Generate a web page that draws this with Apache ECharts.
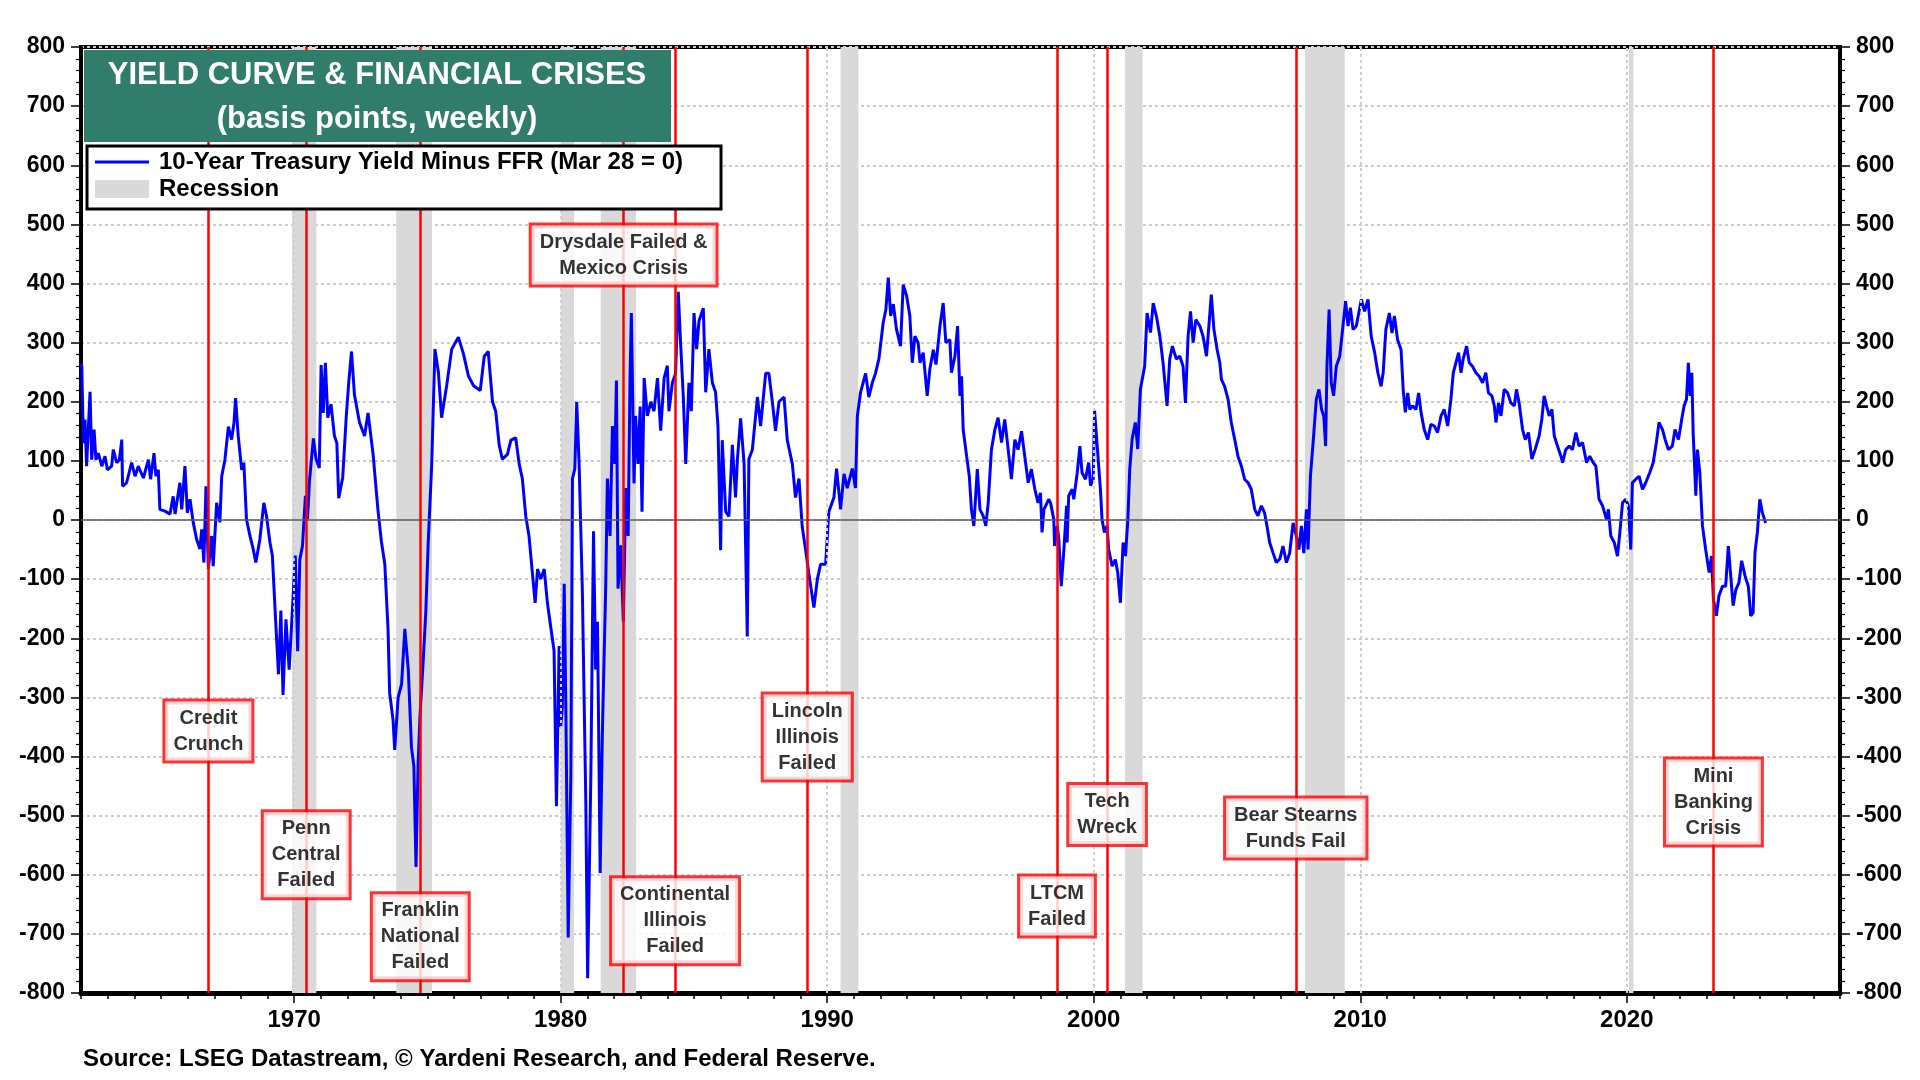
<!DOCTYPE html>
<html>
<head>
<meta charset="utf-8">
<title>Yield Curve & Financial Crises</title>
<script src="https://cdn.jsdelivr.net/npm/echarts@6/dist/echarts.min.js"></script>
<style>
  html, body { margin: 0; padding: 0; background: #fff; }
  #container { width: 1920px; height: 1080px; }
</style>
</head>
<body>
<div id="container"></div>
<script>
// 10-year Treasury yield minus federal funds rate, basis points, [decimal year, value]
var spread60s = [
  [1962.00, 265], [1962.03, 260], [1962.09, 130], [1962.15, 170], [1962.21, 91], [1962.34, 217], [1962.40, 102],
  [1962.49, 153], [1962.56, 102], [1962.65, 113], [1962.78, 91], [1962.90, 108], [1962.99, 85], [1963.15, 91],
  [1963.21, 119], [1963.34, 97], [1963.44, 102], [1963.53, 136], [1963.56, 57], [1963.71, 63], [1963.90, 97],
  [1964.03, 74], [1964.15, 91], [1964.34, 71], [1964.53, 102], [1964.61, 69], [1964.74, 113], [1964.81, 74],
  [1964.90, 85], [1964.96, 18], [1965.15, 15], [1965.34, 10], [1965.46, 40], [1965.53, 10], [1965.71, 63],
  [1965.78, 18], [1965.90, 91], [1965.99, 12], [1966.09, 35], [1966.21, -4], [1966.34, -33], [1966.46, -49],
  [1966.53, -16], [1966.61, -72], [1966.69, 57], [1966.78, -83], [1966.90, -27], [1966.96, -78], [1967.09, 29],
  [1967.21, -4], [1967.28, 74], [1967.40, 102], [1967.53, 158], [1967.65, 136], [1967.74, 164], [1967.80, 206],
  [1967.90, 142], [1968.03, 85], [1968.11, 97], [1968.21, 1], [1968.34, -27], [1968.46, -49], [1968.56, -72],
  [1968.71, -33], [1968.86, 29], [1968.96, 7], [1969.09, -38], [1969.18, -60], [1969.31, -176], [1969.41, -261],
  [1969.50, -153], [1969.58, -296], [1969.69, -168], [1969.81, -253], [1969.94, -145]
];
var spread70s = [
  [1970.04, -60], [1970.13, -222], [1970.21, -67], [1970.31, -44], [1970.42, 41], [1970.50, 2], [1970.57, 64],
  [1970.63, 95], [1970.72, 138], [1970.82, 103], [1970.94, 88], [1971.01, 262], [1971.09, 181], [1971.17, 266],
  [1971.26, 173], [1971.38, 196], [1971.51, 142], [1971.60, 130], [1971.67, 37], [1971.82, 72], [1971.95, 173],
  [1972.05, 235], [1972.15, 285], [1972.26, 212], [1972.45, 165], [1972.64, 142], [1972.77, 181], [1972.96, 111],
  [1973.14, 18], [1973.27, -36], [1973.40, -75], [1973.52, -184], [1973.58, -292], [1973.71, -339], [1973.77, -389],
  [1973.90, -300], [1974.03, -277], [1974.15, -184], [1974.28, -253], [1974.40, -385], [1974.49, -416], [1974.57, -587],
  [1974.65, -409], [1974.72, -331], [1974.84, -238], [1974.94, -153], [1975.03, -36], [1975.16, 95], [1975.28, 289],
  [1975.41, 250], [1975.53, 173], [1975.72, 227], [1975.91, 289], [1976.16, 309], [1976.35, 281], [1976.54, 243],
  [1976.73, 227], [1976.98, 219], [1977.13, 277], [1977.28, 285], [1977.35, 248], [1977.44, 200], [1977.56, 184],
  [1977.69, 127], [1977.81, 103], [1978.00, 111], [1978.13, 135], [1978.31, 139], [1978.44, 95], [1978.56, 70],
  [1978.69, 6], [1978.81, -27], [1978.94, -91], [1979.04, -140], [1979.13, -83], [1979.25, -100], [1979.38, -83],
  [1979.50, -140], [1979.65, -189], [1979.75, -221], [1979.84, -484], [1979.94, -213]
];
var spread80s = [
  [1980.00, -350], [1980.06, -318], [1980.13, -108], [1980.19, -310], [1980.28, -706], [1980.38, -431], [1980.44, 70],
  [1980.53, 87], [1980.60, 200], [1980.69, 95], [1980.81, -116], [1980.94, -472], [1981.01, -775], [1981.13, -431],
  [1981.23, -19], [1981.31, -253], [1981.38, -172], [1981.48, -597], [1981.56, -366], [1981.69, -108], [1981.75, 70],
  [1981.85, -27], [1981.94, 159], [1982.03, 95], [1982.09, 236], [1982.15, -116], [1982.25, -43], [1982.35, -172],
  [1982.44, 54], [1982.53, -27], [1982.60, 240], [1982.65, 350], [1982.75, 62], [1982.81, 176], [1982.90, 95],
  [1982.98, 192], [1983.05, 14], [1983.13, 240], [1983.25, 176], [1983.38, 200], [1983.50, 184], [1983.63, 240],
  [1983.75, 151], [1983.88, 240], [1984.00, 261], [1984.06, 184], [1984.19, 232], [1984.31, 248], [1984.41, 386],
  [1984.50, 297], [1984.60, 208], [1984.69, 95], [1984.81, 232], [1984.90, 184], [1985.00, 350], [1985.10, 289],
  [1985.19, 337], [1985.35, 358], [1985.44, 216], [1985.56, 289], [1985.69, 232], [1985.81, 216], [1985.90, 159],
  [1986.00, -51], [1986.06, 135], [1986.19, 14], [1986.31, 6], [1986.44, 127], [1986.56, 38], [1986.63, 103],
  [1986.75, 172], [1986.88, 95], [1987.00, -197], [1987.06, 103], [1987.19, 119], [1987.38, 208], [1987.50, 159],
  [1987.69, 248], [1987.81, 248], [1987.94, 200], [1988.06, 151], [1988.19, 200], [1988.38, 208], [1988.50, 135],
  [1988.69, 95], [1988.81, 38], [1988.94, 70], [1989.06, -11], [1989.19, -51], [1989.31, -91], [1989.50, -148],
  [1989.63, -100], [1989.75, -75], [1989.94, -75]
];
var spread90s = [
  [1990.06, 14], [1990.25, 38], [1990.35, 87], [1990.50, 18], [1990.63, 78], [1990.75, 54], [1990.94, 87],
  [1991.06, 54], [1991.13, 176], [1991.25, 216], [1991.44, 248], [1991.56, 208], [1991.69, 232], [1991.81, 248],
  [1991.94, 273], [1992.10, 334], [1992.20, 356], [1992.29, 410], [1992.38, 345], [1992.48, 365], [1992.60, 322],
  [1992.75, 294], [1992.85, 398], [1992.98, 379], [1993.10, 345], [1993.19, 266], [1993.29, 311], [1993.41, 300],
  [1993.48, 266], [1993.60, 283], [1993.75, 210], [1993.85, 255], [1993.98, 288], [1994.08, 263], [1994.23, 328],
  [1994.35, 367], [1994.45, 300], [1994.60, 305], [1994.66, 249], [1994.79, 277], [1994.89, 328], [1994.98, 210],
  [1995.04, 243], [1995.10, 153], [1995.23, 108], [1995.33, 74], [1995.41, 18], [1995.50, -10], [1995.63, 86],
  [1995.73, 18], [1995.85, 7], [1995.95, -10], [1996.04, 29], [1996.16, 119], [1996.29, 153], [1996.41, 173],
  [1996.54, 131], [1996.66, 170], [1996.79, 119], [1996.91, 69], [1997.04, 136], [1997.16, 119], [1997.29, 150],
  [1997.41, 108], [1997.54, 63], [1997.66, 86], [1997.79, 52], [1997.91, 29], [1998.00, 46], [1998.06, -21],
  [1998.13, 18], [1998.31, 35], [1998.38, 29], [1998.50, 1], [1998.53, -44], [1998.63, -10], [1998.69, -33],
  [1998.78, -112], [1998.88, -50], [1998.98, 24], [1999.00, -38], [1999.06, 41], [1999.19, 52], [1999.25, 35],
  [1999.38, 80], [1999.48, 125], [1999.56, 80], [1999.69, 69], [1999.81, 97], [1999.88, 58], [1999.98, 69]
];
var spread00s = [
  [2000.03, 185], [2000.13, 125], [2000.25, 52], [2000.31, 1], [2000.40, -21], [2000.50, -10], [2000.56, -50],
  [2000.69, -78], [2000.81, -67], [2000.90, -89], [2001.00, -140], [2001.10, -38], [2001.19, -61], [2001.28, 1],
  [2001.35, 86], [2001.44, 137], [2001.56, 165], [2001.65, 120], [2001.75, 221], [2001.91, 260], [2002.00, 350],
  [2002.13, 317], [2002.23, 367], [2002.35, 345], [2002.48, 311], [2002.60, 266], [2002.75, 193], [2002.85, 272],
  [2002.95, 294], [2003.10, 272], [2003.23, 277], [2003.35, 260], [2003.44, 198], [2003.54, 311], [2003.63, 353],
  [2003.73, 300], [2003.83, 339], [2003.98, 328], [2004.10, 311], [2004.23, 277], [2004.33, 334], [2004.41, 381],
  [2004.51, 322], [2004.63, 288], [2004.73, 266], [2004.79, 238], [2004.91, 226], [2005.04, 204], [2005.16, 165],
  [2005.29, 136], [2005.41, 108], [2005.54, 91], [2005.66, 69], [2005.79, 63], [2005.91, 52], [2006.04, 18],
  [2006.16, 7], [2006.29, 24], [2006.41, 12], [2006.50, -10], [2006.60, -38], [2006.73, -56], [2006.85, -72],
  [2006.98, -66], [2007.10, -44], [2007.23, -72], [2007.35, -56], [2007.48, -5], [2007.60, -27], [2007.70, -50],
  [2007.79, -10], [2007.88, -56], [2007.98, 18], [2008.04, -50], [2008.13, 74], [2008.23, 131], [2008.35, 204],
  [2008.45, 221], [2008.55, 187], [2008.63, 176], [2008.70, 125], [2008.75, 260], [2008.83, 356], [2008.91, 232],
  [2009.00, 210], [2009.10, 260], [2009.23, 277], [2009.35, 328], [2009.45, 370], [2009.54, 328], [2009.63, 359],
  [2009.73, 322], [2009.85, 328]
];
var spread10s = [
  [2010.04, 373], [2010.16, 353], [2010.29, 373], [2010.41, 311], [2010.54, 283], [2010.66, 249], [2010.78, 226],
  [2010.86, 249], [2010.96, 322], [2011.09, 350], [2011.19, 316], [2011.28, 345], [2011.40, 305], [2011.53, 288],
  [2011.61, 221], [2011.69, 182], [2011.78, 215], [2011.86, 187], [2011.96, 193], [2012.09, 187], [2012.19, 215],
  [2012.28, 182], [2012.40, 153], [2012.53, 136], [2012.65, 162], [2012.78, 159], [2012.90, 148], [2013.03, 176],
  [2013.15, 187], [2013.28, 159], [2013.40, 204], [2013.49, 249], [2013.59, 266], [2013.69, 283], [2013.78, 249],
  [2013.86, 272], [2013.99, 294], [2014.09, 266], [2014.21, 260], [2014.34, 249], [2014.46, 243], [2014.59, 232],
  [2014.71, 249], [2014.81, 215], [2014.94, 210], [2015.03, 193], [2015.09, 165], [2015.19, 198], [2015.28, 176],
  [2015.40, 221], [2015.53, 215], [2015.65, 198], [2015.78, 193], [2015.86, 221], [2015.96, 198], [2016.09, 153],
  [2016.19, 136], [2016.31, 148], [2016.44, 103], [2016.56, 119], [2016.71, 142], [2016.81, 170], [2016.90, 210],
  [2016.99, 193], [2017.09, 176], [2017.19, 187], [2017.28, 142], [2017.40, 125], [2017.53, 108], [2017.59, 97],
  [2017.71, 119], [2017.84, 125], [2017.96, 119], [2018.09, 148], [2018.21, 125], [2018.34, 131], [2018.49, 97],
  [2018.61, 108], [2018.74, 97], [2018.84, 91], [2018.96, 35], [2019.09, 24], [2019.24, 1], [2019.31, 18],
  [2019.40, -27], [2019.53, -38], [2019.65, -61], [2019.74, -21], [2019.84, 29], [2019.96, 35]
];
var spread20s = [
  [2020.06, 24], [2020.15, -50], [2020.21, 63], [2020.34, 69], [2020.46, 74], [2020.59, 52], [2020.71, 63],
  [2020.86, 80], [2020.99, 97], [2021.11, 131], [2021.21, 165], [2021.34, 153], [2021.44, 136], [2021.56, 119],
  [2021.71, 125], [2021.81, 153], [2021.94, 136], [2022.06, 170], [2022.15, 193], [2022.24, 204], [2022.31, 266],
  [2022.38, 210], [2022.44, 249], [2022.49, 148], [2022.59, 41], [2022.65, 119], [2022.74, 80], [2022.84, -10],
  [2022.96, -50], [2023.09, -89], [2023.18, -61], [2023.25, -134], [2023.36, -162], [2023.46, -128], [2023.59, -112],
  [2023.71, -112], [2023.81, -44], [2023.90, -95], [2023.99, -145], [2024.09, -118], [2024.21, -106], [2024.31, -69],
  [2024.44, -95], [2024.56, -112], [2024.65, -162], [2024.74, -157], [2024.81, -55], [2024.90, -21], [2024.99, 35],
  [2025.09, 12], [2025.21, -5]
];

// NBER recessions, start and end as decimal years
var recessions = [
  [1969.92, 1970.83], [1973.83, 1975.17], [1980.0, 1980.5], [1981.5, 1982.83],
  [1990.5, 1991.17], [2001.17, 2001.83], [2007.92, 2009.42], [2020.08, 2020.25]
];
var decades = [1970, 1980, 1990, 2000, 2010, 2020];

var events = [
  'Credit\nCrunch', 'Penn\nCentral\nFailed', 'Franklin\nNational\nFailed',
  'Drysdale Failed &\nMexico Crisis', 'Continental\nIllinois\nFailed', 'Lincoln\nIllinois\nFailed',
  'LTCM\nFailed', 'Tech\nWreck', 'Bear Stearns\nFunds Fail', 'Mini\nBanking\nCrisis'
];
var eventDates = [1966.78, 1970.45, 1974.73, 1982.36, 1984.29, 1989.25, 1998.62, 2000.5, 2007.58, 2023.25];
// where each annotation box sits on the y scale
var eventLabelY = [-357, -566, -705, 448, -678, -367, -653, -498, -521, -477];

var FONT = 'Arial, "Liberation Sans", sans-serif';

var lineData = [].concat(spread60s, spread70s, spread80s, spread90s, spread00s, spread10s, spread20s);

var dom = document.getElementById('container');
var myChart = echarts.init(dom, null, { renderer: 'canvas' });

var yAxisBase = function (pos) {
  return {
    type: 'value',
    position: pos,
    min: -800,
    max: 800,
    interval: 100,
    axisLine: { show: true, onZero: false, lineStyle: { color: '#000', width: 4 } },
    axisTick: { show: true, length: 10, lineStyle: { color: '#000', width: 1.5 } },
    minorTick: { show: true, splitNumber: 5, length: 5, lineStyle: { color: '#000', width: 1.2 } },
    axisLabel: { color: '#000', fontFamily: FONT, fontSize: 23, fontWeight: 'bold', margin: 16 },
    splitLine: { show: pos === 'left', lineStyle: { color: '#cccccc', width: 2, type: [3, 3] } }
  };
};

option = {
  animation: false,
  backgroundColor: '#fff',
  grid: {
    left: 81, right: 80, top: 47, bottom: 87,
    show: true, borderColor: '#000', borderWidth: 4, backgroundColor: '#fff'
  },
  xAxis: [
    {
      type: 'value',
      min: 1962,
      max: 2028,
      interval: 1,
      axisLine: { show: true, onZero: false, lineStyle: { color: '#000', width: 5 } },
      axisTick: { show: true, length: 6, lineStyle: { color: '#000', width: 1.5 } },
      axisLabel: {
        color: '#000', fontFamily: FONT, fontSize: 24, fontWeight: 'bold', margin: 15,
        formatter: function (v) { return v % 10 === 0 ? String(v) : ''; }
      },
      splitLine: { show: false }
    },
    {
      type: 'value',
      position: 'bottom',
      min: 1962,
      max: 2028,
      axisLine: { show: false, onZero: false },
      axisTick: { show: true, customValues: decades, length: 10, lineStyle: { color: '#000', width: 1.5 } },
      axisLabel: { show: false },
      splitLine: { show: false }
    }
  ],
  yAxis: [yAxisBase('left'), yAxisBase('right')],
  series: [
    {
      name: 'Recession',
      type: 'line',
      data: [],
      z: 1,
      silent: true,
      markArea: {
        silent: true,
        itemStyle: { color: '#d9d9d9' },
        data: recessions.map(function (r) { return [{ xAxis: r[0] }, { xAxis: r[1] }]; })
      }
    },
    {
      name: 'decade grid',
      type: 'line',
      data: [],
      z: 1,
      silent: true,
      markLine: {
        silent: true,
        symbol: ['none', 'none'],
        label: { show: false },
        lineStyle: { color: '#d0d0d0', width: 2, type: [3, 3] },
        data: decades.map(function (d) { return { xAxis: d }; })
      }
    },
    {
      name: 'zero',
      type: 'line',
      data: [],
      z: 2,
      silent: true,
      markLine: {
        silent: true,
        symbol: ['none', 'none'],
        label: { show: false },
        lineStyle: { color: '#5a5a5a', width: 1.5, type: 'solid' },
        data: [{ yAxis: 0 }]
      }
    },
    {
      name: '10-Year Treasury Yield Minus FFR (Mar 28 = 0)',
      type: 'line',
      data: lineData,
      z: 3,
      showSymbol: false,
      symbol: 'none',
      lineStyle: { color: '#0000ff', width: 3 },
      itemStyle: { color: '#0000ff' }
    },
    {
      name: 'crises',
      type: 'line',
      data: [],
      z: 4,
      silent: true,
      markLine: {
        silent: true,
        symbol: ['none', 'none'],
        label: { show: false },
        lineStyle: { color: '#ff0000', width: 2.5, type: 'solid' },
        data: eventDates.map(function (d) { return { xAxis: d }; })
      }
    },
    {
      name: 'crisis labels',
      type: 'scatter',
      z: 6,
      silent: true,
      symbolSize: 1,
      itemStyle: { color: 'rgba(0,0,0,0)' },
      data: events.map(function (e, i) { return { name: e, value: [eventDates[i], eventLabelY[i]] }; }),
      label: {
        show: true,
        position: 'inside',
        formatter: function (p) { return p.name; },
        color: '#000',
        textBorderWidth: 0,
        fontFamily: FONT,
        fontSize: 20,
        fontWeight: 'bold',
        lineHeight: 26,
        align: 'center',
        backgroundColor: '#fff',
        borderColor: '#ff0000',
        borderWidth: 3,
        padding: [5, 8, 2, 8]
      }
    }
  ],
  graphic: [
    { type: 'rect', z: 100, shape: { x: 84, y: 50, width: 587, height: 92 }, style: { fill: '#317d6c' } },
    {
      type: 'text', z: 101, x: 377, y: 75,
      style: { text: 'YIELD CURVE & FINANCIAL CRISES', fill: '#fff', font: 'bold 31px ' + FONT, align: 'center', verticalAlign: 'middle' }
    },
    {
      type: 'text', z: 101, x: 377, y: 119,
      style: { text: '(basis points, weekly)', fill: '#fff', font: 'bold 31px ' + FONT, align: 'center', verticalAlign: 'middle' }
    },
    { type: 'rect', z: 100, shape: { x: 87, y: 146, width: 634, height: 63 }, style: { fill: '#fff', stroke: '#000', lineWidth: 3 } },
    { type: 'line', z: 101, shape: { x1: 95, y1: 162, x2: 149, y2: 162 }, style: { stroke: '#0000ff', lineWidth: 3 } },
    {
      type: 'text', z: 101, x: 159, y: 162,
      style: { text: '10-Year Treasury Yield Minus FFR (Mar 28 = 0)', fill: '#000', font: 'bold 24px ' + FONT, verticalAlign: 'middle' }
    },
    { type: 'rect', z: 101, shape: { x: 95, y: 180, width: 54, height: 18 }, style: { fill: '#d9d9d9' } },
    {
      type: 'text', z: 101, x: 159, y: 189,
      style: { text: 'Recession', fill: '#000', font: 'bold 24px ' + FONT, verticalAlign: 'middle' }
    },
    {
      type: 'text', z: 101, x: 83, y: 1059,
      style: { text: 'Source: LSEG Datastream, \u00a9 Yardeni Research, and Federal Reserve.', fill: '#000', font: 'bold 24px ' + FONT, verticalAlign: 'middle' }
    }
  ]
};

myChart.setOption(option, true);
</script>
</body>
</html>
